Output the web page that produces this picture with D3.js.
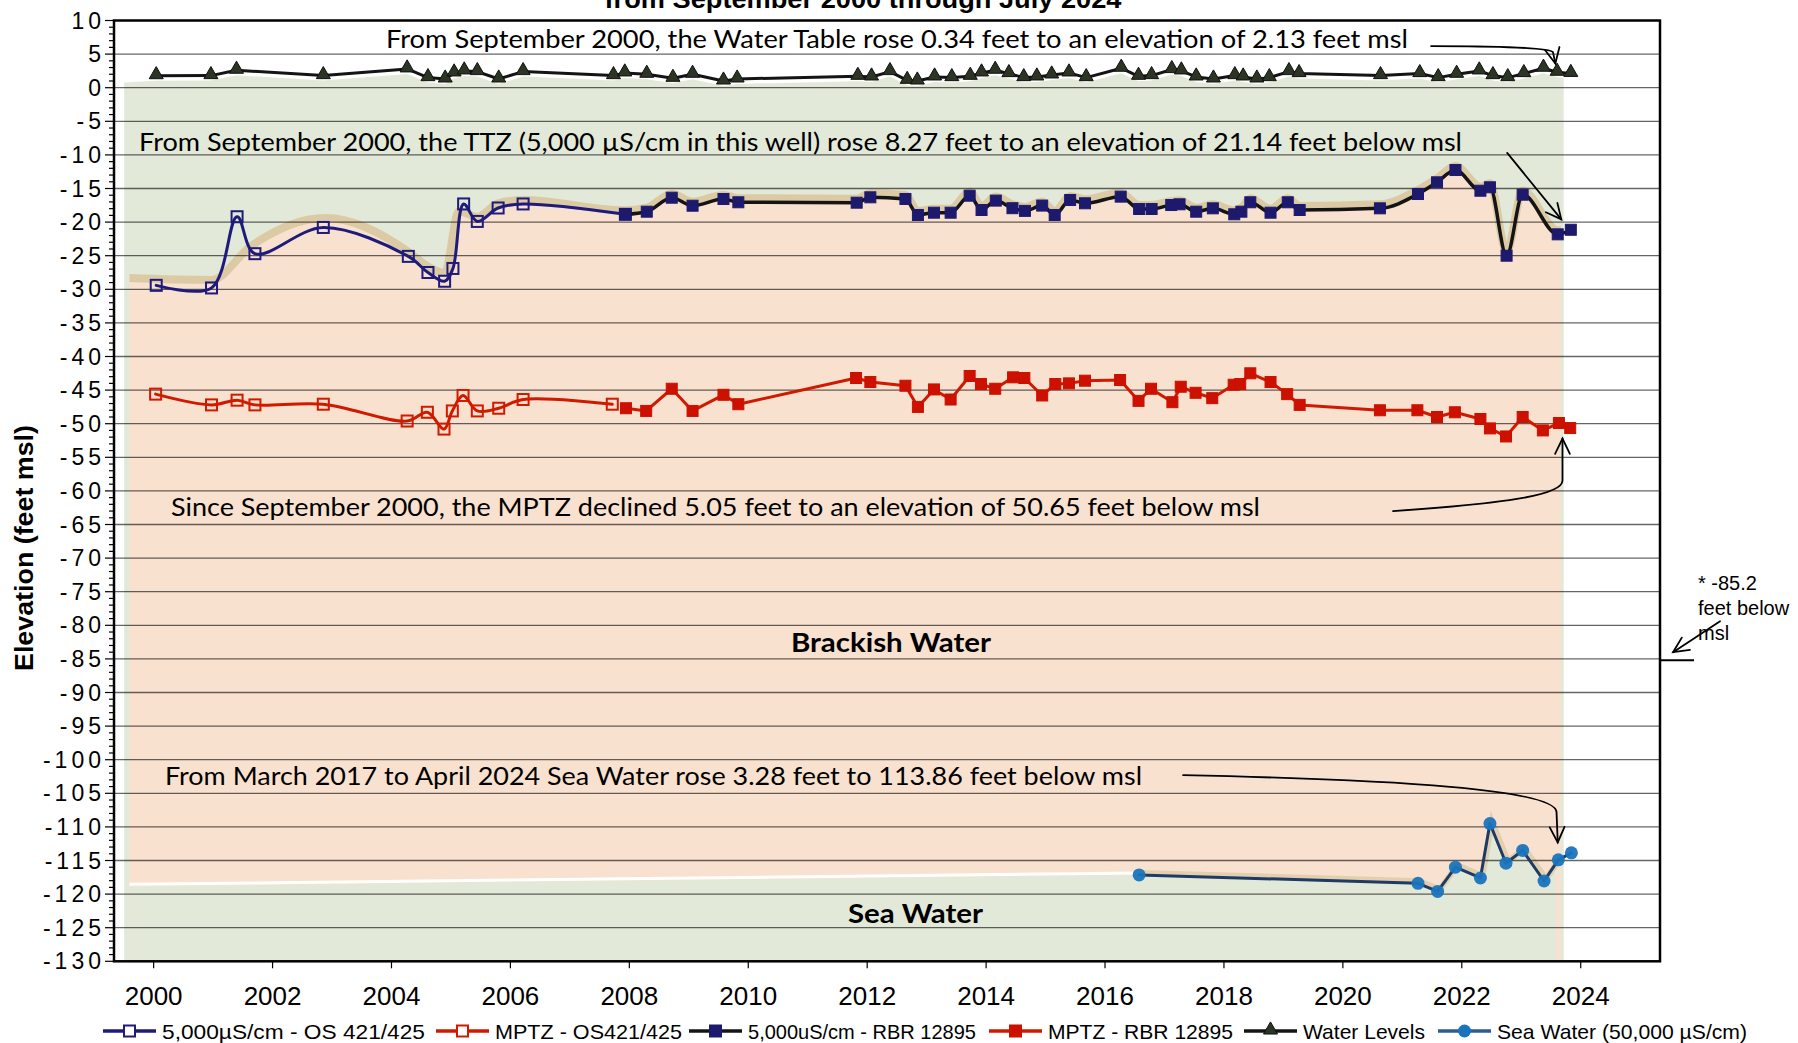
<!DOCTYPE html>
<html>
<head>
<meta charset="utf-8">
<script src="https://cdn.jsdelivr.net/npm/d3@7"></script>
<style>
  body { margin: 0; background: #fff; }
  svg { display: block; }
</style>
</head>
<body>
<svg id="chart" width="1798" height="1043"></svg>
<script>
// ---- Monitoring record (decimal year, elevation in feet msl) ----
const waterLevels = [
  [2000.71, 1.79], [2001.63, 1.8], [2002.06, 2.6], [2003.52, 1.8], [2004.93, 2.8],
  [2005.28, 1.5], [2005.57, 1.3], [2005.72, 2.2], [2005.89, 2.5], [2006.11, 2.4],
  [2006.47, 1.3], [2006.88, 2.4], [2008.40, 1.8], [2008.59, 2.2], [2008.96, 2.0],
  [2009.40, 1.4], [2009.73, 2.0], [2010.25, 1.0], [2010.48, 1.3], [2012.51, 1.7],
  [2012.74, 1.6], [2013.05, 2.4], [2013.34, 1.1], [2013.51, 1.0], [2013.80, 1.6],
  [2014.09, 1.5], [2014.40, 1.7], [2014.59, 2.2], [2014.82, 2.6], [2015.05, 2.1],
  [2015.30, 1.5], [2015.52, 1.6], [2015.77, 1.9], [2016.06, 2.2], [2016.35, 1.5],
  [2016.94, 2.9], [2017.23, 1.7], [2017.45, 1.8], [2017.79, 2.7], [2017.95, 2.5],
  [2018.20, 1.6], [2018.49, 1.3], [2018.85, 1.8], [2018.99, 1.6], [2019.22, 1.3],
  [2019.43, 1.5], [2019.76, 2.4], [2019.93, 2.1], [2021.30, 1.8], [2021.96, 2.1],
  [2022.27, 1.5], [2022.58, 2.0], [2022.96, 2.5], [2023.19, 1.8], [2023.44, 1.5],
  [2023.71, 2.1], [2024.04, 2.9], [2024.27, 2.3], [2024.50, 2.13]
];

// 5,000 µS/cm depth, observation wells OS 421/425
const ttzOS = [
  [2000.71, -29.41], [2001.64, -29.8], [2002.07, -19.2], [2002.37, -24.7], [2003.52, -20.8],
  [2004.95, -25.1], [2005.28, -27.5], [2005.56, -28.8], [2005.70, -26.9], [2005.88, -17.3],
  [2006.11, -19.9], [2006.46, -17.9], [2006.88, -17.3], [2008.60, -18.84]
];

// MPTZ, observation wells OS 421/425
const mptzOS = [
  [2000.70, -45.6], [2001.64, -47.2], [2002.07, -46.5], [2002.37, -47.2], [2003.52, -47.1],
  [2004.93, -49.6], [2005.27, -48.3], [2005.55, -50.8], [2005.69, -48.1], [2005.87, -45.8],
  [2006.11, -48.1], [2006.47, -47.7], [2006.88, -46.4], [2008.38, -47.1]
];

// 5,000 µS/cm depth, RBR 12895
const ttzRBR = [
  [2008.60, -18.84], [2008.96, -18.45], [2009.38, -16.37], [2009.73, -17.56], [2010.25, -16.56],
  [2010.50, -17.05], [2012.49, -17.11], [2012.72, -16.31], [2013.31, -16.56], [2013.52, -18.94],
  [2013.79, -18.60], [2014.07, -18.60], [2014.39, -16.07], [2014.59, -18.2], [2014.83, -16.8],
  [2015.11, -17.93], [2015.32, -18.33], [2015.61, -17.54], [2015.82, -18.94], [2016.08, -16.71],
  [2016.33, -17.20], [2016.93, -16.21], [2017.24, -18.05], [2017.45, -18.05], [2017.78, -17.46],
  [2017.92, -17.35], [2018.20, -18.45], [2018.48, -17.95], [2018.84, -18.84], [2018.96, -18.45],
  [2019.11, -17.05], [2019.45, -18.6], [2019.74, -17.05], [2019.94, -18.2], [2021.29, -17.95],
  [2021.93, -15.82], [2022.25, -14.08], [2022.56, -12.25], [2022.98, -15.33], [2023.14, -14.82],
  [2023.42, -25.0], [2023.69, -15.92], [2024.28, -21.82], [2024.50, -21.14]
];

// MPTZ, RBR 12895
const mptzRBR = [
  [2008.61, -47.7], [2008.95, -48.1], [2009.38, -44.8], [2009.73, -48.1], [2010.25, -45.7],
  [2010.50, -47.1], [2012.48, -43.2], [2012.72, -43.8], [2013.31, -44.35], [2013.52, -47.5],
  [2013.79, -44.9], [2014.07, -46.4], [2014.39, -42.9], [2014.58, -44.1], [2014.82, -44.8],
  [2015.12, -43.1], [2015.31, -43.2], [2015.61, -45.8], [2015.83, -44.1], [2016.06, -44.0],
  [2016.33, -43.6], [2016.92, -43.5], [2017.23, -46.6], [2017.44, -44.8], [2017.80, -46.8],
  [2017.94, -44.5], [2018.19, -45.4], [2018.47, -46.2], [2018.83, -44.2], [2018.94, -44.1],
  [2019.11, -42.5], [2019.45, -43.8], [2019.73, -45.6], [2019.94, -47.2], [2021.29, -48.0],
  [2021.92, -48.0], [2022.25, -49.0], [2022.55, -48.3], [2022.98, -49.3], [2023.14, -50.7],
  [2023.41, -51.9], [2023.69, -49.0], [2024.03, -51.0], [2024.30, -49.9], [2024.49, -50.65]
];

// Sea water (50,000 µS/cm)
const seaWater = [
  [2017.24, -117.14], [2021.93, -118.4], [2022.26, -119.6], [2022.56, -116.0], [2022.98, -117.6],
  [2023.14, -109.5], [2023.41, -115.4], [2023.69, -113.5], [2024.05, -118.05], [2024.29, -114.9],
  [2024.51, -113.86]
];

// ---- Zone shading ----
// upper edge of the brackish zone before the RBR record starts
const brackishLeadIn = [
  [2000.17, -28.9], [2001.64, -29.2], [2002.30, -24.2], [2003.55, -20.0], [2004.95, -25.0],
  [2005.28, -27.2], [2005.56, -28.2], [2005.80, -19.0], [2006.11, -19.8], [2006.46, -17.8],
  [2006.88, -17.3]
];
const freshLeadIn = [[2000.17, 1.5]];
const seaLeadIn = [[2000.20, -118.85]];
const freshSpan = [2000.17, 2024.38];
const brackishSpan = [2000.26, 2024.33];
const seaSpan = [2000.26, 2024.25];

// ---- Axis labels ----
const yearLabels = [2000, 2002, 2004, 2006, 2008, 2010, 2012, 2014, 2016, 2018, 2020, 2022, 2024];
const elevationLabels = [10, 5, 0, -5, -10, -15, -20, -25, -30, -35, -40, -45, -50, -55, -60, -65,
  -70, -75, -80, -85, -90, -95, -100, -105, -110, -115, -120, -125, -130];
const gridLevels = [5, 0, -5, -10, -15, -20, -25, -30, -35, -40, -45, -50, -55, -60, -65, -70,
  -75, -80, -85, -90, -95, -100, -105, -110, -115, -120, -125];
const deepestNote = -85.2;

const legendLabels = ["5,000µS/cm - OS 421/425", "MPTZ - OS421/425", "5,000uS/cm - RBR 12895",
  "MPTZ - RBR 12895", "Water Levels", "Sea Water (50,000 µS/cm)"];

// ---- Layout ----
const X0 = 114, X1 = 1660, Y0 = 20.5, Y1 = 961.3;
const x = d3.scaleLinear().domain([2000, 2026]).range([X0, X1]);
const y = d3.scaleLinear().domain([-130, 10]).range([Y1, Y0]);

const C = {
  fresh: "#e2e9d9", brackish: "#f9e1cf", tan: "#dccaa5",
  navy: "#1f1b7a", navyFill: "#1d1a6e", red: "#d01a00", redFill: "#cc1100",
  black: "#141414", tri: "#2c3424", sea: "#1f3a64", seaDot: "#1a74bd"
};
const ARIAL = "Arial, 'Liberation Sans', Helvetica, sans-serif";
const NOTE = "Lato, Calibri, Carlito, 'Open Sans', sans-serif";

const svg = d3.select("#chart");
const defs = svg.append("defs");
function clipFor(id, span) {
  defs.append("clipPath").attr("id", id).append("rect")
    .attr("x", x(span[0])).attr("y", Y0)
    .attr("width", x(span[1]) - x(span[0])).attr("height", Y1 - Y0);
  return `url(#${id})`;
}
const plotClip = (() => {
  defs.append("clipPath").attr("id", "plotClip").append("rect")
    .attr("x", X0).attr("y", Y0).attr("width", X1 - X0).attr("height", Y1 - Y0);
  return "url(#plotClip)";
})();

const px = d => x(d[0]);
const py = d => y(d[1]);

// ---- Zone fills ----
const zones = svg.append("g").attr("clip-path", plotClip);

zones.append("path")
  .datum(freshLeadIn.concat(waterLevels))
  .attr("clip-path", clipFor("freshClip", freshSpan))
  .attr("fill", C.fresh)
  .attr("transform", "translate(0,5)")
  .attr("d", d3.area().x(px).y0(y(-130)).y1(py));

const brackishTop = brackishLeadIn.concat(ttzRBR);
const brackishClip = clipFor("brackishClip", brackishSpan);
zones.append("path")
  .datum(brackishTop)
  .attr("clip-path", brackishClip)
  .attr("fill", C.brackish)
  .attr("d", d3.area().x(px).y0(y(-130)).y1(py).curve(d3.curveMonotoneX));
zones.append("path")
  .datum(brackishTop)
  .attr("clip-path", brackishClip)
  .attr("fill", "none").attr("stroke", C.tan).attr("stroke-width", 8)
  .attr("stroke-linejoin", "round")
  .attr("transform", "translate(0,-4)")
  .attr("d", d3.line().x(px).y(py).curve(d3.curveMonotoneX));

const seaTop = seaLeadIn.concat(seaWater);
const seaClip = clipFor("seaClip", seaSpan);
zones.append("path")
  .datum(seaTop)
  .attr("clip-path", seaClip)
  .attr("fill", C.fresh)
  .attr("d", d3.area().x(px).y0(y(-130)).y1(py));
zones.append("path")
  .datum(seaTop.slice(0, 2))
  .attr("clip-path", seaClip)
  .attr("fill", "none").attr("stroke", "#fff").attr("stroke-width", 3)
  .attr("transform", "translate(0,-2)")
  .attr("d", d3.line().x(px).y(py));
zones.append("path")
  .datum(seaTop.slice(1))
  .attr("clip-path", seaClip)
  .attr("fill", "none").attr("stroke", C.tan).attr("stroke-width", 6)
  .attr("opacity", 0.8)
  .attr("transform", "translate(2,-2)")
  .attr("d", d3.line().x(px).y(py));

// ---- Gridlines ----
svg.append("g").selectAll("line").data(gridLevels).join("line")
  .attr("x1", X0).attr("x2", X1)
  .attr("y1", d => y(d)).attr("y2", d => y(d))
  .attr("stroke", "#000").attr("stroke-opacity", 0.6).attr("stroke-width", 1.3);

// ---- Series ----
const series = svg.append("g").attr("clip-path", plotClip);
function drawLine(data, color, width, curve) {
  series.append("path").datum(data)
    .attr("fill", "none").attr("stroke", color).attr("stroke-width", width)
    .attr("stroke-linejoin", "round").attr("stroke-linecap", "round")
    .attr("d", d3.line().x(px).y(py).curve(curve));
}
function drawSquares(data, size, fill, stroke, sw) {
  series.append("g").selectAll("rect").data(data).join("rect")
    .attr("x", d => px(d) - size / 2).attr("y", d => py(d) - size / 2)
    .attr("width", size).attr("height", size)
    .attr("fill", fill).attr("stroke", stroke).attr("stroke-width", sw);
}

drawLine(ttzOS, C.navy, 3, d3.curveCatmullRom.alpha(0.5));
drawSquares(ttzOS, 11, "none", C.navy, 2);

drawLine(mptzOS, C.red, 3, d3.curveCatmullRom.alpha(0.5));
drawSquares(mptzOS, 11, "none", C.red, 2);

drawLine(ttzRBR, C.black, 3.5, d3.curveMonotoneX);
drawSquares(ttzRBR, 11, C.navyFill, C.navyFill, 1);

drawLine(mptzRBR, C.red, 3, d3.curveLinear);
drawSquares(mptzRBR, 11, C.redFill, C.redFill, 1);

drawLine(waterLevels, C.black, 3, d3.curveLinear);
const triangle = d3.symbol().type(d3.symbolTriangle).size(85);
series.append("g").selectAll("path").data(waterLevels).join("path")
  .attr("transform", d => `translate(${px(d)},${py(d) - 1})`)
  .attr("d", triangle).attr("fill", C.tri).attr("stroke", "#111").attr("stroke-width", 1);

drawLine(seaWater, C.sea, 3, d3.curveLinear);
series.append("g").selectAll("circle").data(seaWater).join("circle")
  .attr("cx", px).attr("cy", py).attr("r", 6.5)
  .attr("fill", C.seaDot).attr("fill-opacity", 0.95);

// ---- Axes and frame ----
const axes = svg.append("g");
// minor and major ticks on the elevation axis
axes.append("g").selectAll("line").data(d3.range(-130, 11, 1)).join("line")
  .attr("x1", d => X0 - (d % 5 === 0 ? 9 : 5)).attr("x2", X0)
  .attr("y1", d => y(d)).attr("y2", d => y(d))
  .attr("stroke", "#000").attr("stroke-width", 1.2);
axes.append("g").selectAll("line").data(yearLabels).join("line")
  .attr("x1", d => x(d + 8 / 12)).attr("x2", d => x(d + 8 / 12))
  .attr("y1", Y1).attr("y2", Y1 + 7)
  .attr("stroke", "#000").attr("stroke-width", 1.2);
axes.append("rect")
  .attr("x", X0).attr("y", Y0).attr("width", X1 - X0).attr("height", Y1 - Y0)
  .attr("fill", "none").attr("stroke", "#000").attr("stroke-width", 2.5);

const LS = 4;
axes.append("g").selectAll("text").data(elevationLabels).join("text")
  .attr("x", 101 + LS).attr("y", d => y(d) + 8)
  .attr("text-anchor", "end")
  .attr("font-family", ARIAL).attr("font-size", 23).attr("letter-spacing", LS)
  .attr("fill", "#000")
  .text(d => d);

axes.append("g").selectAll("text").data(yearLabels).join("text")
  .attr("x", d => x(d + 8 / 12)).attr("y", 1005)
  .attr("text-anchor", "middle")
  .attr("font-family", ARIAL).attr("font-size", 26)
  .attr("fill", "#000")
  .text(d => d);

svg.append("text")
  .attr("transform", `translate(33,548) rotate(-90)`)
  .attr("text-anchor", "middle")
  .attr("font-family", ARIAL).attr("font-weight", "bold").attr("font-size", 25)
  .attr("textLength", 246).attr("lengthAdjust", "spacingAndGlyphs")
  .text("Elevation (feet msl)");

svg.append("text")
  .attr("x", 863).attr("y", 8)
  .attr("text-anchor", "middle")
  .attr("font-family", ARIAL).attr("font-weight", "bold").attr("font-size", 25)
  .attr("textLength", 517).attr("lengthAdjust", "spacingAndGlyphs")
  .text("from September 2000 through July 2024");

// ---- Annotations ----
const notes = svg.append("g").attr("font-family", NOTE).attr("fill", "#000");
function note(text, xPos, yPos, len, size, weight) {
  notes.append("text")
    .attr("x", xPos).attr("y", yPos)
    .attr("font-size", size).attr("font-weight", weight || "normal")
    .attr("textLength", len).attr("lengthAdjust", "spacingAndGlyphs")
    .text(text);
}
note("From September 2000, the Water Table rose 0.34 feet to an elevation of 2.13 feet msl", 386, 48, 1022, 25);
note("From September 2000, the TTZ (5,000 µS/cm in this well) rose 8.27 feet to an elevation of 21.14 feet below msl", 139, 151, 1323, 25);
note("Since September 2000, the MPTZ declined 5.05 feet to an elevation of 50.65 feet below msl", 171, 516, 1089, 25);
note("From March 2017 to April 2024 Sea Water rose 3.28 feet to 113.86 feet below msl", 165, 785, 977, 25);
note("Brackish Water", 791, 652, 200, 26, "bold");
note("Sea Water", 848, 923, 135, 26, "bold");

// arrows, given in chart coordinates [year, feet]
const arrows = [
  { path: [[2022.15, 6.2], [2023.3, 6.2], [2024.15, 5.9], [2024.20, 5.3]], tip: [2024.24, 3.6] },
  { path: [[2023.43, -9.7]], tip: [2024.34, -19.6] },
  { path: [[2021.51, -63.0], [2023.4, -61.9], [2024.36, -60.6], [2024.36, -58.5]], tip: [2024.36, -52.2] },
  { path: [[2017.98, -102.3], [2021.6, -103.0], [2024.24, -104.4], [2024.26, -107.8]], tip: [2024.28, -112.3] },
  { path: [[2027.01, -79.4]], tip: [2026.22, -84.0] }
];
const arrowG = svg.append("g").attr("fill", "none").attr("stroke", "#000")
  .attr("stroke-width", 1.8).attr("stroke-linecap", "round");
arrows.forEach(a => {
  const p = a.path.map(d => [x(d[0]), y(d[1])]);
  const t = [x(a.tip[0]), y(a.tip[1])];
  let d;
  if (p.length === 4) {
    d = `M${p[0]}C${p[1]} ${p[2]} ${p[3]}L${t}`;
  } else {
    d = `M${p[0]}L${t}`;
  }
  arrowG.append("path").attr("d", d);
  const prev = p[p.length - 1];
  const ang = Math.atan2(t[1] - prev[1], t[0] - prev[0]);
  const L = 17, spread = 0.45;
  const h1 = [t[0] - L * Math.cos(ang - spread), t[1] - L * Math.sin(ang - spread)];
  const h2 = [t[0] - L * Math.cos(ang + spread), t[1] - L * Math.sin(ang + spread)];
  arrowG.append("path").attr("d", `M${h1}L${t}L${h2}`);
});

// marker for the deepest reading outside the frame
svg.append("line")
  .attr("x1", X1).attr("x2", X1 + 34)
  .attr("y1", y(deepestNote)).attr("y2", y(deepestNote))
  .attr("stroke", "#000").attr("stroke-width", 1.8);
const deepText = svg.append("text")
  .attr("font-family", ARIAL).attr("font-size", 20).attr("fill", "#000");
["* " + deepestNote, "feet below", "msl"].forEach((s, i) => {
  deepText.append("tspan").attr("x", 1698).attr("y", 590 + i * 25).text(s);
});

// ---- Legend ----
const legendX = [103, 436, 689, 989, 1244, 1438];
const legendTextLen = [263, 187, 228, 185, 122, 250];
const legendStyle = [
  { line: C.navy, mark: "square", fill: "none", stroke: C.navy },
  { line: C.red, mark: "square", fill: "none", stroke: C.red },
  { line: C.black, mark: "square", fill: C.navyFill, stroke: C.navyFill },
  { line: C.red, mark: "square", fill: C.redFill, stroke: C.redFill },
  { line: C.black, mark: "triangle", fill: C.tri, stroke: "#111" },
  { line: "#2f5b91", mark: "circle", fill: C.seaDot, stroke: "none" }
];
const LY = 1031;
const legend = svg.append("g");
legendLabels.forEach((label, i) => {
  const g = legend.append("g").attr("transform", `translate(${legendX[i]},${LY})`);
  const st = legendStyle[i];
  g.append("line").attr("x1", 0).attr("x2", 53).attr("y1", 0).attr("y2", 0)
    .attr("stroke", st.line).attr("stroke-width", 3.5);
  if (st.mark === "square") {
    g.append("rect").attr("x", 21).attr("y", -5.5).attr("width", 11).attr("height", 11)
      .attr("fill", st.fill === "none" ? "#fff" : st.fill).attr("stroke", st.stroke).attr("stroke-width", 2);
  } else if (st.mark === "triangle") {
    g.append("path").attr("transform", "translate(26.5,-1)").attr("d", triangle)
      .attr("fill", st.fill).attr("stroke", st.stroke);
  } else {
    g.append("circle").attr("cx", 26.5).attr("cy", 0).attr("r", 6.5).attr("fill", st.fill);
  }
  g.append("text").attr("x", 59).attr("y", 7.5)
    .attr("font-family", ARIAL).attr("font-size", 21).attr("fill", "#000")
    .attr("textLength", legendTextLen[i]).attr("lengthAdjust", "spacingAndGlyphs")
    .text(label);
});
</script>
</body>
</html>
